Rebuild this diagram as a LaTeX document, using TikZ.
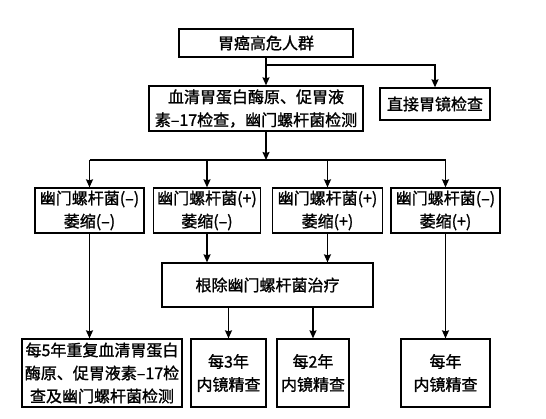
\documentclass[tikz,border=0pt]{standalone}
\usepackage{fontspec}
\newfontfamily\cjk{Noto Sans CJK SC}[FakeBold=1.2]
\usetikzlibrary{
	arrows.meta,
	positioning
}
\tikzset{
	>={Stealth[length=8pt, width=7pt, inset=1pt]},
	flowline/.style={line width=1.3pt},
	flowedge/.style={->, line width=1.3pt},
	flowbox/.style={draw, line width=1.3pt, align=center, inner sep=0pt,
		font=\cjk\fontsize{16}{23}\selectfont}
}

\begin{document}
\begin{tikzpicture}[x=1pt, y=-1pt]
	\useasboundingbox (0,0) rectangle (546,418);
	% first two levels
	\node[flowbox, minimum width=174pt, minimum height=28pt] (risk) at (266,43) {胃癌高危人群};
	\node[flowbox, minimum width=214pt, minimum height=45pt] (serum) at (256,108.5) {血清胃蛋白酶原、促胃液\\素–17检查，幽门螺杆菌检测};
	\node[flowbox, minimum width=110pt, minimum height=32pt] (direct) at (435,104) {直接胃镜检查};
	% results of the tests
	\node[flowbox, minimum width=109pt, minimum height=45pt] (hpn1) at (89.5,210.5) {幽门螺杆菌(–)\\萎缩(–)};
	\node[flowbox, minimum width=107pt, minimum height=45pt] (hpp1) at (207,210.5) {幽门螺杆菌(+)\\萎缩(–)};
	\node[flowbox, minimum width=110pt, minimum height=45pt] (hpp2) at (327.5,210.5) {幽门螺杆菌(+)\\萎缩(+)};
	\node[flowbox, minimum width=109pt, minimum height=45pt] (hpn2) at (445.5,210.5) {幽门螺杆菌(–)\\萎缩(+)};
	\node[flowbox, minimum width=211pt, minimum height=44pt] (erad) at (267.5,285) {根除幽门螺杆菌治疗};
	% follow-up
	\node[flowbox, minimum width=160pt, minimum height=68pt] (rep5) at (102,373) {每5年重复血清胃蛋白\\酶原、促胃液素–17检\\查及幽门螺杆菌检测};
	\node[flowbox, minimum width=75pt, minimum height=68pt] (yr3) at (228.5,373) {每3年\\内镜精查};
	\node[flowbox, minimum width=72pt, minimum height=68pt] (yr2) at (313,373) {每2年\\内镜精查};
	\node[flowbox, minimum width=89pt, minimum height=68pt] (yr1) at (445.5,373) {每年\\内镜精查};

	\coordinate (split) at (266,65);
	\coordinate (bus) at (266,160);
	\draw[flowedge] (risk) -- (risk |- serum.north);
	\draw[flowedge] (split) -| (direct.north);
	\draw[flowedge] (risk |- serum.south) -- (bus);
	\draw[flowline] (hpn1 |- bus) -- (hpn2 |- bus);
	\foreach \n in {hpn1,hpp1,hpp2,hpn2} {
		\draw[flowedge] (\n |- bus) -- (\n.north);
	}
	\draw[flowedge] (hpn1) -- (hpn1 |- rep5.north);
	\draw[flowedge] (hpp1) -- (hpp1 |- erad.north);
	\draw[flowedge] (hpp2) -- (hpp2 |- erad.north);
	\draw[flowedge] (yr3 |- erad.south) -- (yr3.north);
	\draw[flowedge] (yr2 |- erad.south) -- (yr2.north);
	\draw[flowedge] (hpn2) -- (yr1.north);
\end{tikzpicture}
\end{document}
